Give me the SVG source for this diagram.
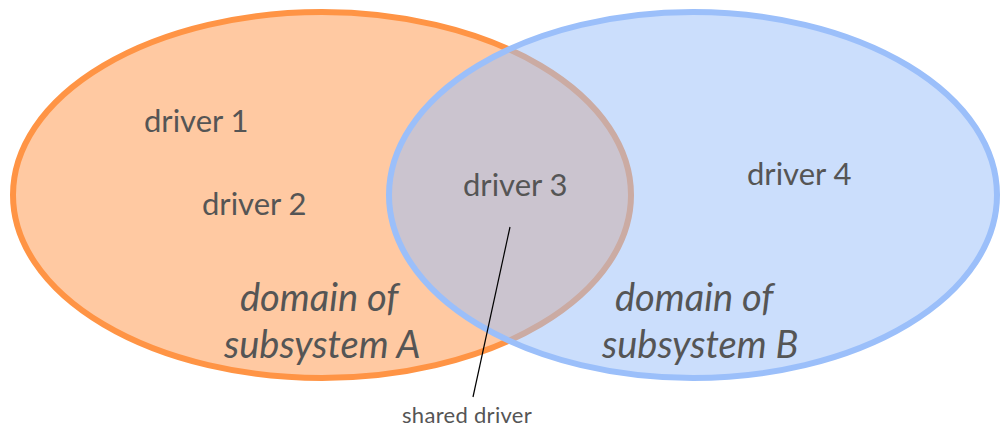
<svg xmlns="http://www.w3.org/2000/svg" width="1001" height="430" viewBox="0 0 1001 430">
  <style>
    .lbl { font-family: Lato, "Open Sans", "Liberation Sans", sans-serif; fill: #555555; }
    .drv { font-size: 31px; }
    .dom { font-size: 38px; font-style: italic; }
    .note { font-size: 22px; letter-spacing: 0.3px; }
  </style>
  <rect width="1001" height="430" fill="#ffffff"/>
  <g id="subsystem-a">
    <ellipse cx="322" cy="195" rx="309" ry="183" fill="#ff9445" fill-opacity="0.5" stroke="#ff9445" stroke-width="6"/>
  </g>
  <g id="subsystem-b">
    <ellipse cx="693" cy="195" rx="304" ry="183" fill="#9bbffa" fill-opacity="0.52" stroke="none"/>
    <ellipse cx="693" cy="195" rx="304" ry="183" fill="none" stroke="#9bbffa" stroke-width="6"/>
  </g>
  <g id="driver-1"><text class="lbl drv" x="144" y="132">driver 1</text></g>
  <g id="driver-2"><text class="lbl drv" x="202" y="215">driver 2</text></g>
  <g id="driver-3"><text class="lbl drv" x="463" y="196">driver 3</text></g>
  <g id="driver-4"><text class="lbl drv" x="747" y="185">driver 4</text></g>
  <g id="domain-a">
    <text class="lbl dom" x="240" y="311">domain of</text>
    <text class="lbl dom" x="224" y="358">subsystem A</text>
  </g>
  <g id="domain-b">
    <text class="lbl dom" x="615" y="311">domain of</text>
    <text class="lbl dom" x="602" y="358">subsystem B</text>
  </g>
  <g id="connectors">
    <line x1="510" y1="227" x2="473" y2="397" stroke="#000000" stroke-width="1.2"/>
  </g>
  <g id="shared-note"><text class="lbl note" x="402" y="423">shared driver</text></g>
</svg>
